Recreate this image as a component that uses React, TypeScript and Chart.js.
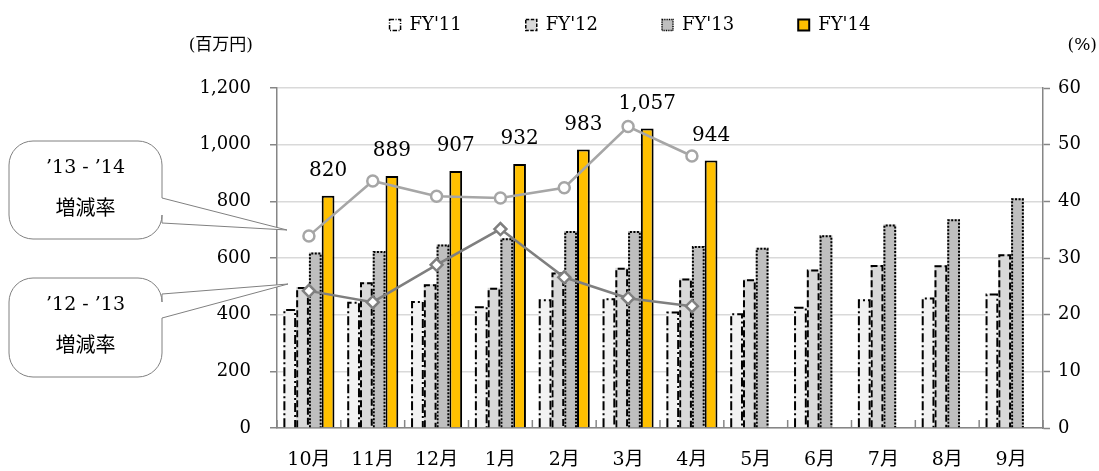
import React, { useEffect, useRef } from 'react';
import { Chart, registerables } from 'chart.js';

Chart.register(...registerables);

// ---- data ----
const categories = ['10月', '11月', '12月', '1月', '2月', '3月', '4月', '5月', '6月', '7月', '8月', '9月'];
const fy11 = [420, 446, 448, 430, 454, 458, 411, 405, 428, 454, 461, 475];
const fy12 = [498, 514, 507, 495, 549, 566, 528, 525, 559, 575, 574, 613];
const fy13 = [619, 625, 648, 670, 695, 695, 642, 636, 680, 718, 737, 811];
const fy14 = [820, 889, 907, 932, 983, 1057, 944, null, null, null, null, null];
const rate1314 = [33.9, 43.6, 40.9, 40.6, 42.4, 53.2, 48.0, null, null, null, null, null];
const rate1213 = [24.2, 22.2, 28.8, 35.1, 26.6, 22.9, 21.5, null, null, null, null, null];
const seriesNames = ["FY'11", "FY'12", "FY'13", "FY'14"];
const rateNames = ["'13 - '14 増減率", "'12 - '13 増減率"];
const leftAxisMax = 1200;
const leftAxisStep = 200;
const rightAxisMax = 60;
const rightAxisStep = 10;
const leftUnit = '(百万円)';
const rightUnit = '(%)';
const callout1 = ['’13 - ’14', '増減率'];
const callout2 = ['’12 - ’13', '増減率'];

// ---- styles ----
const SERIF = '"DejaVu Serif", "Noto Sans CJK JP", serif';
const CJK = '"Noto Sans CJK JP", sans-serif';
const barFills = ['#f2f2f2', '#d9d9d9', '#bfbfbf', '#ffc000'];
const barDashes: number[][] = [[9, 3, 2, 3], [7, 3], [2, 1.5], []];
const axisColor = '#868686';
const gridColor = '#d9d9d9';

const barOutline = {
  id: 'barOutline',
  afterDatasetDraw(chart: any, args: any) {
    const ds = chart.data.datasets[args.index];
    if (ds.type !== 'bar' || ds._seriesIdx === 3) return;
    const ctx = chart.ctx;
    const dash = barDashes[ds._seriesIdx];
    ctx.save();
    ctx.strokeStyle = '#000';
    ctx.lineWidth = 2;
    ctx.setLineDash(dash);
    args.meta.data.forEach((el: any) => {
      const p = el.getProps(['x', 'y', 'base', 'width'], true);
      if (p.y == null || isNaN(p.y)) return;
      const l = p.x - p.width / 2 + 1;
      const r = p.x + p.width / 2 - 1;
      ctx.beginPath();
      ctx.moveTo(l, p.base);
      ctx.lineTo(l, p.y + 1);
      ctx.lineTo(r, p.y + 1);
      ctx.lineTo(r, p.base);
      ctx.stroke();
    });
    ctx.restore();
  },
};

const decorations = {
  id: 'decorations',
  beforeInit(chart: any) {
    const lg = chart.legend;
    if (lg && !lg._patched) {
      const orig = lg.fit;
      lg.fit = function () {
        orig.call(this);
        this.height = 136;
      };
      lg._patched = true;
    }
  },
  afterLayout(chart: any) {
    const lg = chart.legend;
    if (lg) {
      lg.left -= 60;
    }
  },
  afterDatasetsDraw(chart: any) {
    const ctx = chart.ctx;
    // value labels for FY'14
    const idx = chart.data.datasets.findIndex((d: any) => d._seriesIdx === 3);
    const meta = chart.getDatasetMeta(idx);
    ctx.save();
    ctx.font = `20px ${SERIF}`;
    ctx.fillStyle = '#000';
    ctx.textAlign = 'center';
    ctx.textBaseline = 'middle';
    meta.data.forEach((el: any, i: number) => {
      const v = fy14[i];
      if (v == null) return;
      ctx.fillText(v.toLocaleString('en-US'), el.x, el.y - 25);
    });
    ctx.restore();

    // inner x ticks at category boundaries
    const xs = chart.scales.x;
    const half = (xs.getPixelForValue(1) - xs.getPixelForValue(0)) / 2;
    const bottom = chart.chartArea.bottom;
    ctx.save();
    ctx.strokeStyle = axisColor;
    ctx.lineWidth = 1.5;
    for (let i = 0; i <= categories.length; i++) {
      const x = xs.getPixelForValue(i) - half;
      ctx.beginPath();
      ctx.moveTo(x, bottom - 8);
      ctx.lineTo(x, bottom);
      ctx.stroke();
    }
    ctx.restore();
  },
  afterDraw(chart: any) {
    const ctx = chart.ctx;
    ctx.save();
    // unit labels
    ctx.fillStyle = '#000';
    ctx.textBaseline = 'middle';
    ctx.font = `17px ${SERIF}`;
    ctx.textAlign = 'right';
    ctx.fillText(leftUnit, 253, 46);
    ctx.textAlign = 'right';
    ctx.fillText(rightUnit, 1097, 46);

    const drawCallout = (
      x: number, y: number, w: number, h: number, r: number,
      wy1: number, wy2: number, tx: number, ty: number, lines: string[]
    ) => {
      ctx.beginPath();
      ctx.moveTo(x + r, y);
      ctx.lineTo(x + w - r, y);
      ctx.arcTo(x + w, y, x + w, y + r, r);
      ctx.lineTo(x + w, wy1);
      ctx.lineTo(tx, ty);
      ctx.lineTo(x + w, wy2);
      ctx.lineTo(x + w, y + h - r);
      ctx.arcTo(x + w, y + h, x + w - r, y + h, r);
      ctx.lineTo(x + r, y + h);
      ctx.arcTo(x, y + h, x, y + h - r, r);
      ctx.lineTo(x, y + r);
      ctx.arcTo(x, y, x + r, y, r);
      ctx.closePath();
      ctx.fillStyle = '#fff';
      ctx.fill();
      ctx.strokeStyle = '#808080';
      ctx.lineWidth = 1;
      ctx.stroke();
      ctx.fillStyle = '#000';
      ctx.textAlign = 'center';
      ctx.textBaseline = 'middle';
      ctx.font = `19px ${SERIF}`;
      ctx.fillText(lines[0], x + w / 2, y + 27);
      ctx.font = `20px ${CJK}`;
      ctx.fillText(lines[1], x + w / 2, y + 66);
    };
    drawCallout(9, 141, 153, 98, 24, 198, 223, 287, 230, callout1);
    drawCallout(9, 278, 153, 99, 24, 294, 318, 288, 284, callout2);
    ctx.restore();
  },
};

export default function App() {
  const ref = useRef<HTMLCanvasElement | null>(null);

  useEffect(() => {
    document.body.style.margin = '0';
    Chart.defaults.font.family = SERIF;
    Chart.defaults.color = '#000';
    const canvas = ref.current;
    if (!canvas) return;

    const barSets = [fy11, fy12, fy13, fy14].map((d, i) => ({
      type: 'bar' as const,
      label: seriesNames[i],
      data: d,
      backgroundColor: barFills[i],
      borderColor: '#000',
      borderWidth: i === 3 ? 2 : 0,
      borderSkipped: 'start',
      yAxisID: 'y',
      order: 2,
      categoryPercentage: 0.8,
      barPercentage: 1.0,
      _seriesIdx: i,
    }));

    const lineSets = [
      {
        type: 'line' as const,
        label: rateNames[0],
        data: rate1314,
        borderColor: '#a6a6a6',
        borderWidth: 2.5,
        pointStyle: 'circle',
        pointRadius: 5.5,
        pointBackgroundColor: '#fff',
        pointBorderColor: '#a6a6a6',
        pointBorderWidth: 2.5,
        yAxisID: 'y1',
        order: 0,
        _seriesIdx: 10,
      },
      {
        type: 'line' as const,
        label: rateNames[1],
        data: rate1213,
        borderColor: '#7f7f7f',
        borderWidth: 2.5,
        pointStyle: 'rectRot',
        pointRadius: 6,
        pointBackgroundColor: '#fff',
        pointBorderColor: '#7f7f7f',
        pointBorderWidth: 2.5,
        yAxisID: 'y1',
        order: 0,
        _seriesIdx: 11,
      },
    ];

    const chart = new Chart(canvas, {
      data: {
        labels: categories,
        datasets: [...lineSets, ...barSets] as any,
      },
      options: {
        animation: false,
        responsive: true,
        maintainAspectRatio: false,
        layout: { padding: { top: -48, left: 0, right: 0, bottom: 0 } },
        plugins: {
          tooltip: { enabled: false },
          legend: {
            display: true,
            position: 'top',
            fullSize: false,
            labels: {
              boxWidth: 11,
              boxHeight: 11,
              padding: 64,
              color: '#000',
              font: { size: 18, family: SERIF },
              generateLabels: () =>
                seriesNames.map((text, i) => ({
                  text,
                  fillStyle: i === 0 ? '#ffffff' : barFills[i],
                  strokeStyle: '#000',
                  lineWidth: i === 3 ? 2 : 1.5,
                  lineDash: i === 3 ? [] : barDashes[i].map((v) => v * 0.5),
                  hidden: false,
                  datasetIndex: i + 2,
                  fontColor: '#000',
                })),
            },
          },
        },
        scales: {
          x: {
            type: 'category',
            grid: { display: true, drawOnChartArea: false, drawTicks: false },
            border: { color: axisColor, width: 1.5 },
            ticks: { padding: 21, font: { size: 19, family: SERIF }, color: '#000' },
            afterFit: (s: any) => { s.height = 43; },
          },
          y: {
            type: 'linear',
            position: 'left',
            min: 0,
            max: leftAxisMax,
            ticks: {
              stepSize: leftAxisStep,
              padding: 19,
              font: { size: 18, family: SERIF },
              color: '#000',
              callback: (v: any) => Number(v).toLocaleString('en-US'),
            },
            grid: { color: gridColor, lineWidth: 1.5, tickLength: 7, tickColor: axisColor, tickWidth: 1.5 },
            border: { color: axisColor, width: 1.5 },
            afterFit: (s: any) => { s.width = 277; },
          },
          y1: {
            type: 'linear',
            position: 'right',
            min: 0,
            max: rightAxisMax,
            ticks: {
              stepSize: rightAxisStep,
              padding: 8,
              font: { size: 18, family: SERIF },
              color: '#000',
            },
            grid: { drawOnChartArea: false, tickLength: 7, tickColor: axisColor, tickWidth: 1.5 },
            border: { color: axisColor, width: 1.5 },
            afterFit: (s: any) => { s.width = 56; },
          },
        },
      } as any,
      plugins: [barOutline, decorations],
    });

    return () => chart.destroy();
  }, []);

  return (
    <div style={{ position: 'fixed', left: 0, top: 0, width: 1099, height: 471, background: '#fff' }}>
      <canvas ref={ref} style={{ width: '100%', height: '100%' }} />
    </div>
  );
}
